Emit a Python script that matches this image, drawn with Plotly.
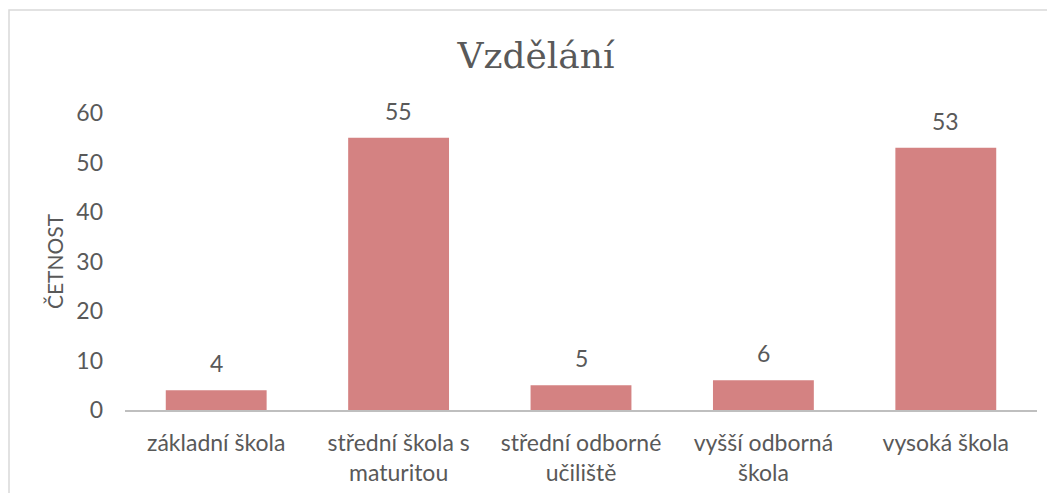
import plotly.graph_objects as go

categories = ["základní škola", "střední škola s<br>maturitou", "střední odborné<br>učiliště", "vyšší odborná<br>škola", "vysoká škola"]
values = [4, 55, 5, 6, 53]
y_ticks = [0, 10, 20, 30, 40, 50, 60]

# page body has an 8px margin; compensate
OFF = 8
W, H = 1055 - OFF, 493 - OFF
ml, mt = 125 - OFF, 113 - OFF
plot_right, plot_bottom = 1037 - OFF, 410 - OFF
mr, mb = W - plot_right, H - plot_bottom
pw = W - ml - mr
ph = H - mt - mb

text_color = "#595959"
font_family = "Lato, 'Open Sans', sans-serif"
fs = 23

fig = go.Figure()
fig.add_trace(go.Bar(
    x=categories, y=values,
    marker=dict(color="#d48282", line=dict(width=0)),
    width=0.553,
    hoverinfo="skip",
))

for c, v in zip(categories, values):
    fig.add_annotation(x=c, y=v, text=str(v), showarrow=False,
                       yanchor="bottom", yshift=11,
                       font=dict(size=fs, color=text_color, family=font_family))

# chart border
fig.add_shape(type="rect", xref="paper", yref="paper",
              x0=(1 - ml) / pw, x1=(W + 5 - ml) / pw,
              y0=-(H + 5 - plot_bottom) / ph, y1=1 + (mt - 2) / ph,
              line=dict(color="#d9d9d9", width=1.5), layer="below")

fig.update_layout(
    width=W, height=H,
    margin=dict(l=ml, r=mr, t=mt, b=mb, autoexpand=False),
    paper_bgcolor="white", plot_bgcolor="white",
    showlegend=False,
    title=dict(text="Vzdělání", x=(536 - OFF - ml) / pw, xref="paper", xanchor="center",
               y=1 - (55 - OFF) / H, yanchor="middle",
               font=dict(family="'DejaVu Serif', serif", size=36, color=text_color)),
    font=dict(family=font_family, color=text_color, size=fs),
    xaxis=dict(
        showline=True, linecolor="#bfbfbf", linewidth=2,
        showgrid=False, ticks="", ticklabelstandoff=11,
        tickfont=dict(size=fs, color=text_color, family=font_family),
    ),
    yaxis=dict(
        range=[0, 60], tickvals=y_ticks, showgrid=False, zeroline=False,
        showline=False, ticks="", ticklabelstandoff=21,
        tickfont=dict(size=fs, color=text_color, family=font_family),
        title=dict(text="ČETNOST", standoff=6,
                   font=dict(size=21, color=text_color, family=font_family)),
    ),
    bargap=0.447,
)

fig.write_html("out.html")
